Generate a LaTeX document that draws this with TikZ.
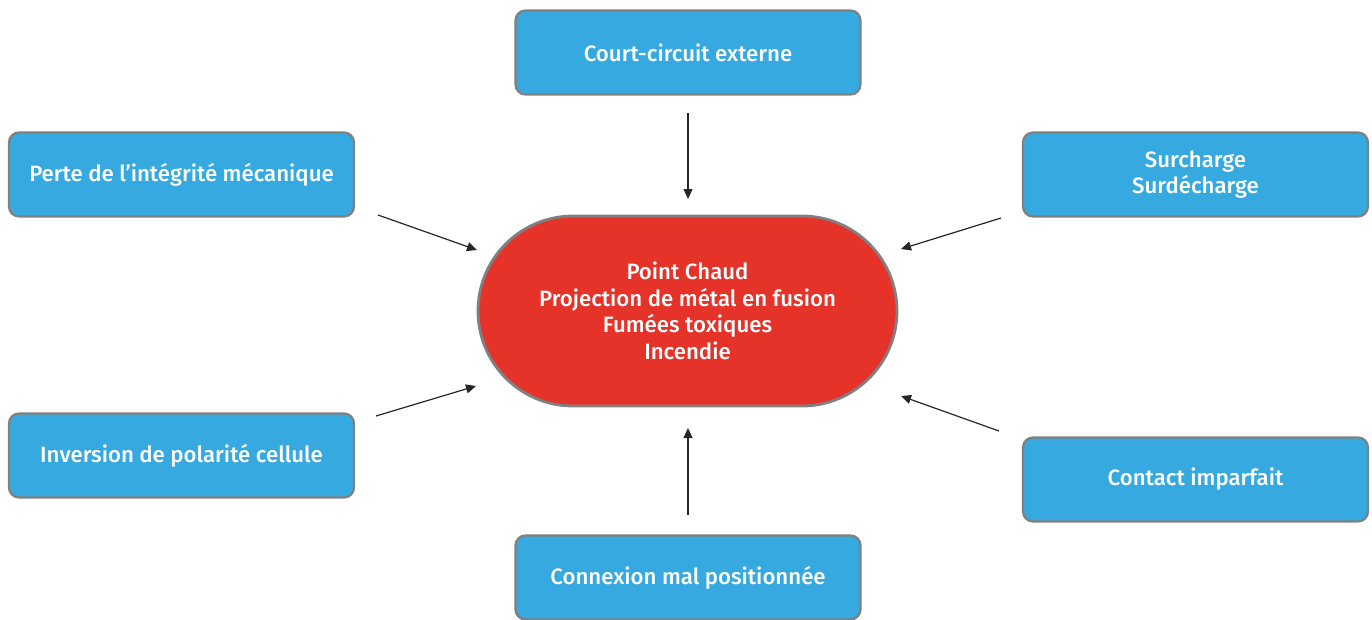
\documentclass[tikz,border=0pt]{standalone}
\usepackage{fontspec}
\setmainfont{Fira Sans}[BoldFont={Fira Sans Medium}]
\usetikzlibrary{arrows.meta}
\definecolor{boxblue}{HTML}{36A9E1}
\definecolor{hotred}{HTML}{E5332A}
\definecolor{edgegray}{HTML}{808080}
\begin{document}
\begin{tikzpicture}[x=1pt,y=-1pt,
  cause/.style={draw=edgegray,line width=2.2pt,fill=boxblue,rounded corners=10pt,
    minimum width=345pt,minimum height=84pt,text=white,align=center,
    font=\fontsize{22.2}{26}\selectfont\bfseries},
  effect/.style={draw=edgegray,line width=2.8pt,fill=hotred,rounded corners=95pt,
    minimum width=419pt,minimum height=190pt,text=white,align=center,
    font=\fontsize{22.2}{26.5}\selectfont\bfseries},
  link/.style={line width=1.2pt,draw=black!85,-{Triangle[length=10pt,width=9pt]}}]
\useasboundingbox (0,0) rectangle (1372,619);
\node[effect] (c) at (687.5,311) {Point Chaud\\Projection de métal en fusion\\Fumées toxiques\\Incendie};
\node[cause] (t) at (688,52.5) {Court-circuit externe};
\node[cause] (lt) at (181.5,174.5) {Perte de l’intégrité mécanique};
\node[cause] (rt) at (1195.5,174.5) {Surcharge\\Surdécharge};
\node[cause] (lb) at (181.5,455.5) {Inversion de polarité cellule};
\node[cause] (rb) at (1195.5,479.5) {Contact imparfait};
\node[cause] (b) at (688,577.5) {Connexion mal positionnée};
\coordinate (ts) at (688,113); \coordinate (te) at (688,199);
\coordinate (lts) at (378,215); \coordinate (lte) at (477,250);
\coordinate (rts) at (1001,218); \coordinate (rte) at (901,249);
\coordinate (lbs) at (376,416); \coordinate (lbe) at (476,386);
\coordinate (rbs) at (999,431); \coordinate (rbe) at (901,396);
\coordinate (bs) at (688,515); \coordinate (be) at (688,428);
\draw[link] (ts) -- (te);
\draw[link] (lts) -- (lte);
\draw[link] (rts) -- (rte);
\draw[link] (lbs) -- (lbe);
\draw[link] (rbs) -- (rbe);
\draw[link] (bs) -- (be);
\end{tikzpicture}
\end{document}
